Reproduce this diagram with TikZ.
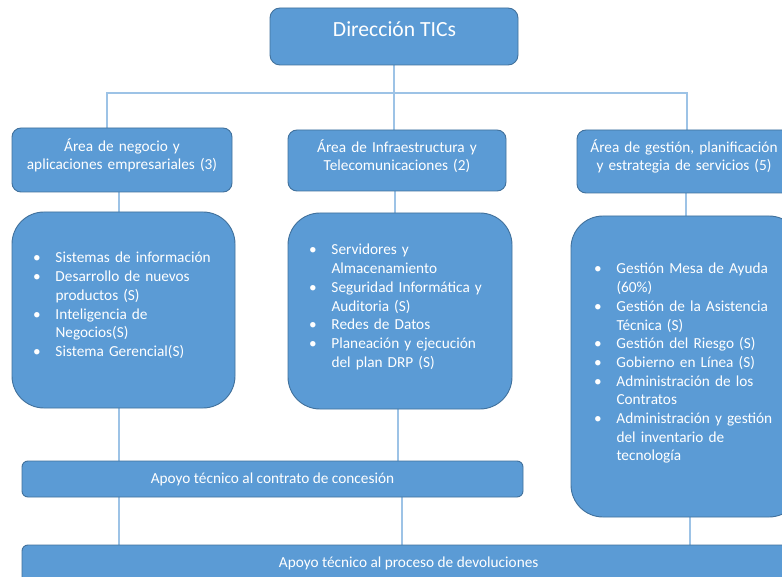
\documentclass[tikz,border=0pt]{standalone}
\usepackage{fontspec}
\setmainfont{Carlito}
\usetikzlibrary{backgrounds}
\definecolor{boxfill}{HTML}{5B9BD5}
\definecolor{boxline}{HTML}{41719C}
\definecolor{connline}{HTML}{9DC3E6}
\newcommand\bul{\makebox[22.5pt][l]{\textbullet}}
\newcommand\cnt{\hspace*{22.5pt}}
\begin{document}
\begin{tikzpicture}[x=1pt,y=-1pt,
  box/.style={draw=boxline, fill=boxfill, line width=0.9pt, inner sep=0pt, outer sep=0pt},
  conn/.style={draw=connline, line width=1.2pt},
  txt/.style={text=white, inner sep=0pt, outer sep=0pt, font=\fontsize{15.3}{18}\selectfont},
  lst/.style={text=white, inner sep=0pt, outer sep=0pt, anchor=base west, align=left,
    text width=205pt, font=\fontsize{15.3}{18.7}\selectfont},
  hd/.style={txt, anchor=base, align=center, text width=230pt}]
\clip (0,0) rectangle (782,577);

% boxes
\node[box, rounded corners=10pt, minimum width=248pt, minimum height=57pt] (dir) at (394,36.5) {};
\node[box, rounded corners=9pt, minimum width=220pt, minimum height=64pt] (a2) at (122,160) {};
\node[box, rounded corners=9pt, minimum width=218pt, minimum height=61pt] (b2) at (397,160.5) {};
\node[box, rounded corners=9pt, minimum width=214pt, minimum height=63pt] (c2) at (684,161.5) {};
\node[box, rounded corners=32pt, minimum width=223pt, minimum height=196pt] (a3) at (123.5,310) {};
\node[box, rounded corners=32pt, minimum width=224pt, minimum height=196pt] (b3) at (400,311) {};
\node[box, rounded corners=32pt, minimum width=230pt, minimum height=301pt] (c3) at (686,366.5) {};
\node[box, rounded corners=6pt, minimum width=501pt, minimum height=36pt] (ap1) at (272.5,479) {};
\node[box, rounded corners=6pt, minimum width=774pt, minimum height=55pt] (ap2) at (409,572.5) {};

% connectors
\coordinate (busL) at (107,93);
\coordinate (busR) at (687,93);
\coordinate (lx) at (119,0);
\coordinate (mx1) at (395,0);
\coordinate (mx2) at (398,0);
\coordinate (mx3) at (402,0);
\coordinate (rx1) at (686,0);
\coordinate (rx2) at (690,0);
\begin{scope}[on background layer]
\fill[white] (0,0) rectangle (782,577);
\draw[conn] (dir.south) -- (dir.south |- b2.north);
\draw[conn] (busL |- a2.north) -- (busL) -- (busR) -- (busR |- c2.north);
\draw[conn] (lx |- a2.south) -- (lx |- ap2.north);
\draw[conn] (mx1 |- b2.south) -- (mx1 |- b3.north);
\draw[conn] (mx2 |- b3.south) -- (mx2 |- ap1.north);
\draw[conn] (mx3 |- ap1.south) -- (mx3 |- ap2.north);
\draw[conn] (rx1 |- c2.south) -- (rx1 |- c3.north);
\draw[conn] (rx2 |- c3.south) -- (rx2 |- ap2.north);
\end{scope}

% texts
\node[txt, anchor=base, font=\fontsize{21.6}{26}\selectfont] (tdir) at (394.5,36.7) {Dirección TICs};
\node[hd] (ta2) at (122,152) {Área de negocio y\\aplicaciones empresariales (3)};
\node[hd] (tb2) at (397,153) {Área de Infraestructura y\\Telecomunicaciones (2)};
\node[hd] (tc2) at (684,153) {Área de gestión, planificación\\y estrategia de servicios (5)};

\node[lst] (ta3) at (33,263) {\bul Sistemas de información\\
\bul Desarrollo de nuevos\\\cnt productos (S)\\
\bul Inteligencia de\\\cnt Negocios(S)\\
\bul Sistema Gerencial(S)};
\node[lst] (tb3) at (309,255) {\bul Servidores y\\\cnt Almacenamiento\\
\bul Seguridad Informática y\\\cnt Auditoria (S)\\
\bul Redes de Datos\\
\bul Planeación y ejecución\\\cnt del plan DRP (S)};
\node[lst] (tc3) at (594,274) {\bul Gestión Mesa de Ayuda\\\cnt (60\%)\\
\bul Gestión de la Asistencia\\\cnt Técnica (S)\\
\bul Gestión del Riesgo (S)\\
\bul Gobierno en Línea (S)\\
\bul Administración de los\\\cnt Contratos\\
\bul Administración y gestión\\\cnt del inventario de\\\cnt tecnología};

\node[txt, anchor=base] (tap1) at (272.5,483) {Apoyo técnico al contrato de concesión};
\node[txt, anchor=base] (tap2) at (408.7,567) {Apoyo técnico al proceso de devoluciones};
\end{tikzpicture}
\end{document}
